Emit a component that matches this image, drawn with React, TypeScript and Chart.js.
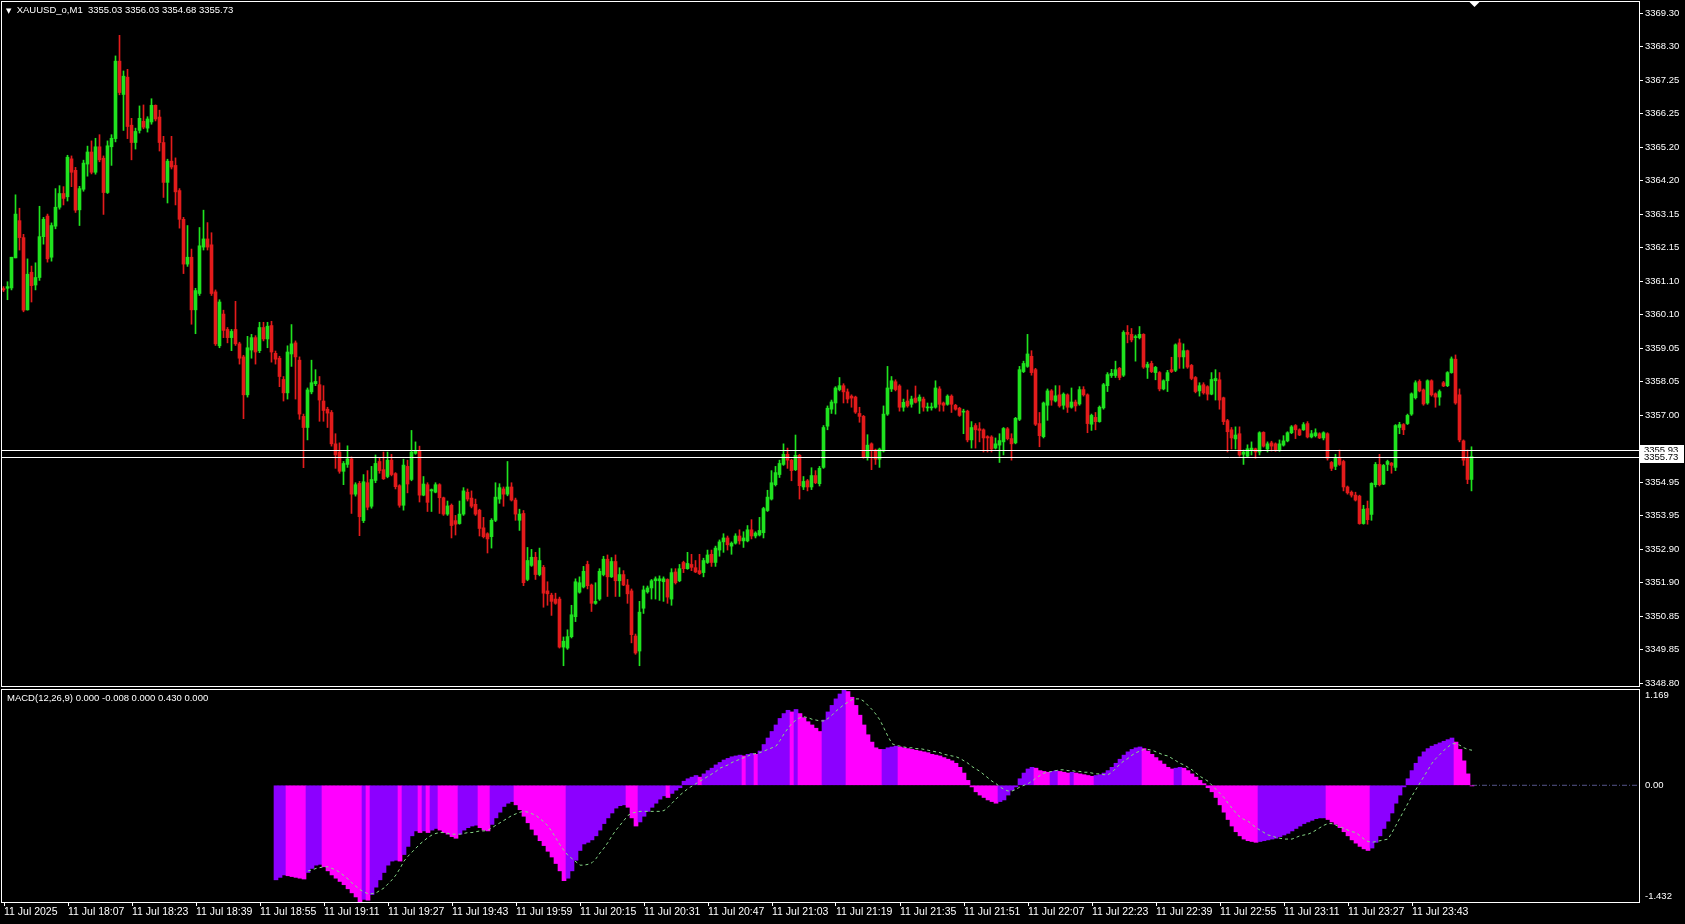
import React, { useEffect, useRef } from "react";
import { Chart, registerables } from "chart.js";
Chart.register(...registerables);

// ---------- text ----------
const TITLE_SYMBOL = "XAUUSD_o,M1  3355.03 3356.03 3354.68 3355.73";
const MACD_TITLE = "MACD(12,26,9) 0.000 -0.008 0.000 0.430 0.000";

// ---------- axis labels ----------
const timeLabels = [
  "11 Jul 2025", "11 Jul 18:07", "11 Jul 18:23", "11 Jul 18:39", "11 Jul 18:55", "11 Jul 19:11",
  "11 Jul 19:27", "11 Jul 19:43", "11 Jul 19:59", "11 Jul 20:15", "11 Jul 20:31", "11 Jul 20:47",
  "11 Jul 21:03", "11 Jul 21:19", "11 Jul 21:35", "11 Jul 21:51", "11 Jul 22:07", "11 Jul 22:23",
  "11 Jul 22:39", "11 Jul 22:55", "11 Jul 23:11", "11 Jul 23:27", "11 Jul 23:43",
];
const timeLabelStep = 16; // bars between time labels

const priceLabels = [
  "3369.30", "3368.30", "3367.25", "3366.25", "3365.20", "3364.20", "3363.15", "3362.15",
  "3361.10", "3360.10", "3359.05", "3358.05", "3357.00", "", "3354.95", "3353.95",
  "3352.90", "3351.90", "3350.85", "3349.85", "3348.80",
];
const priceTickTop = 3369.30;
const priceTickStep = 1.025;
const priceMin = 3348.71;
const priceMax = 3369.64;

const askPrice = 3355.93;
const bidPrice = 3355.73;

const macdLabels = ["1.169", "0.00", "-1.432"];
const macdMax = 1.169;
const macdMin = -1.432;

// ---------- candles (M1 bars from 17:51) ----------
const opens = [
  3360.87, 3360.88, 3360.89, 3361.81, 3362.95, 3362.43, 3360.22, 3361.37, 3360.98, 3361.21,
  3362.46, 3363.09, 3361.83, 3362.78, 3363.36, 3363.78, 3363.68, 3364.84, 3364.49, 3363.28,
  3363.91, 3364.68, 3365.05, 3364.43, 3365.21, 3364.86, 3363.81, 3365.21, 3365.46, 3367.83,
  3366.81, 3367.34, 3365.87, 3365.34, 3365.71, 3365.99, 3365.78, 3365.97, 3366.48, 3366.12,
  3365.34, 3364.12, 3364.77, 3364.64, 3363.87, 3362.99, 3361.62, 3361.83, 3360.22, 3360.72,
  3362.14, 3362.39, 3362.21, 3360.77, 3359.12, 3360.09, 3359.62, 3359.37, 3359.62, 3359.18,
  3358.78, 3357.62, 3358.99, 3359.37, 3358.97, 3359.68, 3359.33, 3359.74, 3358.89, 3358.74,
  3358.09, 3357.68, 3358.87, 3359.21, 3358.68, 3356.96, 3356.62, 3357.71, 3357.96, 3357.93,
  3357.43, 3357.18, 3357.08, 3356.12, 3355.87, 3355.28, 3355.49, 3355.66, 3354.58, 3354.91,
  3353.77, 3354.93, 3354.21, 3355.00, 3355.58, 3355.33, 3355.12, 3355.62, 3355.21, 3354.84,
  3354.24, 3355.43, 3355.03, 3355.83, 3355.89, 3354.55, 3354.87, 3354.68, 3354.64, 3354.87,
  3354.47, 3353.97, 3354.24, 3353.77, 3353.68, 3353.97, 3354.64, 3354.46, 3354.27, 3354.09,
  3353.55, 3353.37, 3353.28, 3353.78, 3354.43, 3354.74, 3354.58, 3354.80, 3354.40, 3353.78,
  3353.99, 3351.97, 3352.40, 3352.65, 3352.12, 3352.34, 3351.62, 3351.49, 3351.37, 3351.37,
  3349.90, 3349.87, 3350.22, 3350.83, 3351.58, 3351.74, 3352.43, 3351.80, 3351.24, 3351.37,
  3352.12, 3352.59, 3352.05, 3352.52, 3351.93, 3352.12, 3351.80, 3351.62, 3350.24, 3349.78,
  3351.09, 3351.59, 3351.71, 3351.93, 3351.93, 3351.90, 3351.97, 3351.37, 3352.20, 3351.93,
  3352.49, 3352.30, 3352.43, 3352.33, 3352.24, 3352.18, 3352.49, 3352.74, 3352.49, 3352.87,
  3353.12, 3353.24, 3352.99, 3353.08, 3353.30, 3353.15, 3353.15, 3353.49, 3353.30, 3353.33,
  3353.40, 3354.08, 3354.43, 3354.87, 3355.18, 3355.49, 3355.80, 3355.62, 3355.33, 3355.77,
  3354.80, 3354.99, 3354.80, 3355.15, 3354.90, 3355.40, 3356.66, 3357.18, 3357.37, 3357.78,
  3357.90, 3357.71, 3357.58, 3357.55, 3357.05, 3356.96, 3355.71, 3356.12, 3355.93, 3355.65,
  3355.90, 3357.03, 3357.80, 3358.02, 3357.89, 3357.24, 3357.43, 3357.33, 3357.52, 3357.43,
  3357.49, 3357.22, 3357.22, 3357.24, 3357.80, 3357.37, 3357.33, 3357.58, 3357.30, 3357.21,
  3357.09, 3357.12, 3356.24, 3356.68, 3356.58, 3356.55, 3356.34, 3356.33, 3355.99, 3356.08,
  3356.18, 3356.58, 3356.28, 3356.15, 3356.87, 3358.33, 3358.49, 3358.80, 3358.39, 3356.74,
  3356.34, 3357.30, 3357.74, 3357.43, 3357.62, 3357.30, 3357.62, 3357.24, 3357.40, 3357.34,
  3357.78, 3357.62, 3356.72, 3356.93, 3356.80, 3357.22, 3357.90, 3358.21, 3358.21, 3358.43,
  3358.22, 3359.53, 3359.47, 3359.37, 3359.37, 3359.47, 3358.46, 3358.58, 3358.30, 3358.30,
  3357.80, 3358.05, 3358.39, 3358.37, 3359.21, 3358.78, 3358.97, 3358.52, 3358.15, 3357.74,
  3357.93, 3357.87, 3357.64, 3358.05, 3358.08, 3357.53, 3356.83, 3356.55, 3356.27, 3356.43,
  3355.80, 3355.74, 3355.93, 3355.97, 3355.87, 3356.47, 3355.96, 3356.15, 3356.12, 3355.93,
  3356.08, 3356.21, 3356.46, 3356.68, 3356.55, 3356.55, 3356.74, 3356.33, 3356.37, 3356.43,
  3356.30, 3356.43, 3355.55, 3355.43, 3355.71, 3355.58, 3354.80, 3354.64, 3354.55, 3354.52,
  3353.68, 3354.14, 3353.96, 3354.87, 3355.49, 3354.89, 3355.49, 3355.53, 3355.40, 3356.62,
  3356.71, 3356.74, 3357.03, 3357.53, 3358.03, 3357.77, 3357.37, 3358.05, 3357.65, 3357.55,
  3357.99, 3357.90, 3358.30, 3358.71, 3357.62, 3356.21, 3355.68, 3355.03,
];
const highs = [
  3360.93, 3361.08, 3361.83, 3363.74, 3363.33, 3362.53, 3361.78, 3361.56, 3361.66, 3363.39,
  3363.05, 3363.15, 3362.88, 3363.93, 3364.02, 3363.99, 3364.95, 3364.93, 3364.58, 3364.00,
  3364.80, 3365.23, 3365.39, 3365.47, 3365.58, 3364.93, 3365.39, 3365.58, 3367.99, 3368.62,
  3367.53, 3367.58, 3366.08, 3365.78, 3366.46, 3366.49, 3366.13, 3366.68, 3366.49, 3366.33,
  3365.53, 3364.83, 3365.53, 3364.87, 3363.93, 3363.05, 3362.80, 3362.08, 3360.88, 3362.74,
  3363.27, 3362.89, 3362.58, 3360.83, 3360.53, 3360.21, 3359.68, 3359.62, 3360.48, 3359.23,
  3358.83, 3359.41, 3359.47, 3359.43, 3359.84, 3359.84, 3359.84, 3359.87, 3358.96, 3358.80,
  3358.18, 3359.12, 3359.77, 3359.27, 3358.78, 3357.03, 3357.83, 3358.68, 3358.39, 3358.18,
  3357.90, 3357.24, 3357.14, 3356.43, 3356.15, 3355.58, 3356.06, 3355.72, 3354.93, 3354.97,
  3355.18, 3355.30, 3355.43, 3355.78, 3355.68, 3355.87, 3355.87, 3355.80, 3355.24, 3354.87,
  3355.65, 3355.62, 3356.53, 3356.18, 3356.05, 3355.12, 3354.93, 3354.74, 3354.93, 3354.90,
  3354.49, 3354.37, 3354.28, 3353.93, 3354.37, 3354.78, 3354.74, 3354.68, 3354.43, 3354.12,
  3353.87, 3353.40, 3353.83, 3354.93, 3354.90, 3354.80, 3355.58, 3354.93, 3354.46, 3354.12,
  3354.08, 3352.95, 3352.89, 3352.80, 3352.93, 3352.40, 3351.90, 3351.55, 3351.55, 3351.43,
  3350.21, 3350.43, 3351.18, 3351.99, 3352.05, 3352.37, 3352.53, 3351.83, 3351.87, 3352.30,
  3352.68, 3352.72, 3352.64, 3352.72, 3352.33, 3352.24, 3351.97, 3351.68, 3350.30, 3351.30,
  3351.77, 3351.77, 3351.97, 3352.05, 3352.08, 3352.05, 3351.99, 3352.30, 3352.30, 3352.43,
  3352.53, 3352.80, 3352.74, 3352.55, 3352.74, 3352.62, 3352.87, 3352.87, 3352.99, 3353.18,
  3353.37, 3353.30, 3353.12, 3353.37, 3353.49, 3353.43, 3353.62, 3353.80, 3353.43, 3353.87,
  3354.18, 3354.70, 3355.30, 3355.43, 3355.62, 3356.12, 3355.99, 3355.65, 3356.39, 3355.80,
  3355.12, 3355.03, 3355.39, 3355.30, 3355.43, 3356.68, 3357.28, 3357.46, 3357.87, 3358.15,
  3357.96, 3357.80, 3357.62, 3357.58, 3357.24, 3356.99, 3356.40, 3356.15, 3355.96, 3355.99,
  3357.28, 3358.49, 3358.18, 3358.08, 3357.93, 3357.49, 3357.77, 3357.58, 3357.89, 3357.62,
  3357.55, 3357.37, 3357.37, 3358.05, 3357.87, 3357.40, 3357.62, 3357.62, 3357.33, 3357.24,
  3357.18, 3357.15, 3356.80, 3356.74, 3356.77, 3356.58, 3356.37, 3356.37, 3356.30, 3356.43,
  3356.62, 3356.62, 3356.43, 3356.93, 3358.49, 3358.65, 3359.47, 3358.97, 3358.43, 3357.08,
  3357.40, 3357.80, 3357.78, 3357.90, 3357.90, 3357.68, 3357.65, 3357.83, 3357.46, 3357.87,
  3357.87, 3357.65, 3357.03, 3357.08, 3357.28, 3357.97, 3358.30, 3358.40, 3358.65, 3358.46,
  3359.58, 3359.74, 3359.65, 3359.45, 3359.71, 3359.49, 3358.62, 3358.65, 3358.49, 3358.33,
  3358.08, 3358.37, 3358.77, 3359.18, 3359.33, 3359.18, 3358.99, 3358.55, 3358.18, 3357.99,
  3357.99, 3357.90, 3358.30, 3358.39, 3358.30, 3357.55, 3356.87, 3356.62, 3356.64, 3356.64,
  3355.93, 3356.09, 3356.18, 3355.99, 3356.49, 3356.49, 3356.18, 3356.20, 3356.15, 3356.24,
  3356.37, 3356.49, 3356.68, 3356.71, 3356.58, 3356.77, 3356.80, 3356.53, 3356.58, 3356.46,
  3356.49, 3356.46, 3355.58, 3355.80, 3355.93, 3355.62, 3354.83, 3354.68, 3354.64, 3354.55,
  3354.24, 3354.37, 3354.93, 3355.55, 3355.80, 3355.49, 3355.62, 3355.55, 3356.71, 3356.78,
  3356.74, 3357.03, 3357.68, 3358.05, 3358.08, 3357.80, 3358.08, 3358.08, 3357.68, 3357.77,
  3358.03, 3358.33, 3358.78, 3358.84, 3357.80, 3356.24, 3355.93, 3356.03,
];
const lows = [
  3360.78, 3360.53, 3360.83, 3361.81, 3362.05, 3360.16, 3360.21, 3360.46, 3360.83, 3361.12,
  3362.23, 3361.68, 3361.71, 3362.70, 3363.30, 3363.43, 3363.55, 3363.99, 3363.20, 3362.80,
  3363.85, 3364.31, 3364.38, 3364.37, 3364.75, 3363.14, 3363.78, 3364.64, 3365.36, 3366.80,
  3365.71, 3365.46, 3364.81, 3365.14, 3365.63, 3365.76, 3365.66, 3365.90, 3366.00, 3365.08,
  3363.66, 3363.49, 3364.53, 3363.43, 3362.72, 3361.33, 3361.55, 3359.78, 3359.49, 3360.66,
  3362.05, 3362.05, 3360.66, 3359.13, 3359.06, 3359.37, 3359.21, 3358.97, 3359.13, 3358.56,
  3356.89, 3357.55, 3358.74, 3358.56, 3358.91, 3359.27, 3359.06, 3358.62, 3358.56, 3357.87,
  3357.43, 3357.49, 3358.49, 3357.49, 3356.87, 3355.39, 3356.24, 3357.65, 3357.90, 3356.81,
  3356.81, 3356.62, 3356.05, 3355.37, 3355.22, 3354.87, 3355.40, 3353.99, 3354.52, 3353.31,
  3353.71, 3354.10, 3354.15, 3354.93, 3355.22, 3355.03, 3355.08, 3355.14, 3354.74, 3354.18,
  3354.09, 3354.62, 3354.99, 3355.80, 3354.34, 3354.53, 3354.05, 3354.05, 3354.62, 3353.99,
  3353.93, 3353.93, 3353.24, 3353.33, 3353.66, 3353.93, 3354.37, 3354.16, 3353.93, 3353.30,
  3353.24, 3352.78, 3352.93, 3353.74, 3354.30, 3354.21, 3354.53, 3354.37, 3353.78, 3353.47,
  3351.78, 3351.93, 3352.37, 3351.97, 3352.08, 3351.12, 3351.18, 3350.87, 3351.21, 3349.87,
  3349.33, 3349.83, 3350.18, 3350.68, 3351.55, 3351.71, 3351.68, 3350.99, 3351.21, 3351.33,
  3352.08, 3351.45, 3352.03, 3351.45, 3351.45, 3351.78, 3351.24, 3350.03, 3349.68, 3349.33,
  3350.93, 3351.55, 3351.37, 3351.37, 3351.33, 3351.30, 3351.24, 3351.18, 3351.83, 3351.90,
  3352.18, 3352.28, 3352.24, 3352.18, 3352.12, 3352.05, 3352.46, 3352.37, 3352.37, 3352.68,
  3352.80, 3352.87, 3352.74, 3353.05, 3353.05, 3352.95, 3353.12, 3353.21, 3353.24, 3353.30,
  3353.24, 3354.05, 3354.40, 3354.83, 3355.09, 3355.46, 3355.37, 3354.99, 3355.30, 3354.43,
  3354.72, 3354.68, 3354.72, 3354.90, 3354.83, 3355.37, 3356.55, 3357.05, 3357.03, 3357.74,
  3357.37, 3357.37, 3357.24, 3357.05, 3356.78, 3355.68, 3355.62, 3355.33, 3355.49, 3355.40,
  3355.87, 3356.99, 3357.72, 3357.74, 3357.12, 3357.12, 3357.24, 3357.24, 3357.37, 3357.05,
  3357.12, 3357.12, 3357.15, 3357.21, 3357.12, 3357.12, 3357.30, 3357.08, 3357.15, 3356.96,
  3356.43, 3356.18, 3355.99, 3355.99, 3356.18, 3355.87, 3355.87, 3355.87, 3355.96, 3355.55,
  3355.78, 3356.24, 3355.62, 3356.12, 3356.83, 3358.30, 3358.46, 3358.22, 3356.68, 3356.03,
  3356.30, 3356.84, 3357.30, 3357.40, 3357.24, 3357.18, 3357.08, 3357.21, 3357.12, 3357.30,
  3357.58, 3356.46, 3356.53, 3356.55, 3356.78, 3357.18, 3357.72, 3358.15, 3358.15, 3358.08,
  3358.18, 3359.21, 3359.24, 3358.65, 3359.33, 3358.43, 3358.12, 3358.30, 3358.08, 3357.74,
  3357.77, 3357.72, 3358.30, 3358.33, 3358.43, 3358.43, 3358.43, 3358.08, 3357.68, 3357.58,
  3357.64, 3357.46, 3357.62, 3357.46, 3357.18, 3356.71, 3355.87, 3355.96, 3355.96, 3355.74,
  3355.49, 3355.71, 3355.78, 3355.68, 3355.78, 3356.02, 3355.87, 3355.90, 3355.89, 3355.89,
  3356.05, 3356.18, 3356.43, 3356.28, 3356.37, 3356.53, 3356.30, 3356.30, 3356.33, 3356.28,
  3356.24, 3355.62, 3355.30, 3355.33, 3355.46, 3354.68, 3354.58, 3354.49, 3354.37, 3353.66,
  3353.66, 3353.66, 3353.78, 3354.80, 3354.83, 3354.87, 3355.30, 3355.22, 3355.30, 3356.43,
  3356.40, 3356.71, 3356.99, 3357.49, 3357.71, 3357.30, 3357.33, 3357.58, 3357.24, 3357.30,
  3357.87, 3357.87, 3358.28, 3357.33, 3356.18, 3355.46, 3354.90, 3354.68,
];
const closes = [
  3360.83, 3360.93, 3361.83, 3363.15, 3362.43, 3360.21, 3361.31, 3360.96, 3361.21, 3362.46,
  3362.99, 3361.78, 3362.80, 3363.36, 3363.78, 3363.63, 3364.89, 3364.43, 3363.27, 3363.93,
  3364.71, 3365.05, 3364.43, 3365.21, 3364.81, 3363.81, 3365.24, 3365.47, 3367.83, 3366.87,
  3367.37, 3365.83, 3365.34, 3365.68, 3366.08, 3365.81, 3366.06, 3366.48, 3366.06, 3365.34,
  3364.12, 3364.77, 3364.59, 3363.83, 3362.99, 3361.62, 3361.83, 3360.22, 3360.81, 3362.18,
  3362.39, 3362.14, 3360.72, 3359.18, 3360.46, 3359.59, 3359.37, 3359.56, 3359.18, 3358.74,
  3357.62, 3359.06, 3359.37, 3358.93, 3359.68, 3359.33, 3359.72, 3358.93, 3358.71, 3358.18,
  3357.68, 3358.93, 3359.18, 3358.78, 3357.03, 3356.62, 3357.77, 3357.99, 3358.03, 3357.46,
  3357.14, 3357.06, 3356.12, 3355.78, 3355.28, 3355.52, 3355.66, 3354.58, 3354.87, 3353.89,
  3354.96, 3354.18, 3355.03, 3355.52, 3355.30, 3355.05, 3355.62, 3355.18, 3354.81, 3354.24,
  3355.47, 3354.89, 3355.87, 3355.89, 3354.55, 3354.89, 3354.33, 3354.72, 3354.87, 3354.47,
  3353.97, 3354.22, 3353.62, 3353.66, 3353.97, 3354.68, 3354.43, 3354.21, 3353.97, 3353.53,
  3353.28, 3353.21, 3353.78, 3354.49, 3354.78, 3354.58, 3354.80, 3354.40, 3353.97, 3353.97,
  3351.87, 3352.55, 3352.65, 3352.12, 3352.55, 3351.55, 3351.53, 3351.30, 3351.24, 3349.90,
  3350.08, 3350.22, 3350.89, 3351.90, 3351.87, 3352.22, 3351.78, 3351.24, 3351.30, 3352.22,
  3352.59, 3352.05, 3352.52, 3351.93, 3352.12, 3351.80, 3351.53, 3350.28, 3349.72, 3350.97,
  3351.65, 3351.71, 3351.93, 3351.99, 3351.99, 3351.99, 3351.43, 3352.18, 3351.87, 3352.30,
  3352.30, 3352.46, 3352.34, 3352.20, 3352.15, 3352.55, 3352.72, 3352.49, 3352.93, 3353.12,
  3353.24, 3353.03, 3353.08, 3353.30, 3353.15, 3353.24, 3353.49, 3353.30, 3353.39, 3353.47,
  3354.14, 3354.49, 3354.93, 3355.24, 3355.52, 3355.80, 3355.62, 3355.30, 3355.77, 3354.84,
  3354.97, 3354.80, 3355.15, 3354.93, 3355.37, 3356.62, 3357.21, 3357.40, 3357.83, 3357.90,
  3357.71, 3357.49, 3357.52, 3357.09, 3356.96, 3355.71, 3356.08, 3355.93, 3355.65, 3355.96,
  3357.03, 3357.83, 3358.05, 3357.78, 3357.24, 3357.39, 3357.28, 3357.49, 3357.39, 3357.55,
  3357.24, 3357.24, 3357.24, 3357.83, 3357.33, 3357.30, 3357.58, 3357.33, 3357.18, 3356.99,
  3357.12, 3356.24, 3356.62, 3356.55, 3356.53, 3356.30, 3356.30, 3355.96, 3356.12, 3356.22,
  3356.59, 3356.28, 3356.12, 3356.90, 3358.39, 3358.58, 3358.87, 3358.30, 3356.72, 3356.37,
  3357.37, 3357.74, 3357.46, 3357.59, 3357.28, 3357.64, 3357.24, 3357.40, 3357.28, 3357.78,
  3357.62, 3356.74, 3356.99, 3356.80, 3357.24, 3357.93, 3358.24, 3358.28, 3358.39, 3358.15,
  3359.53, 3359.47, 3359.30, 3359.40, 3359.47, 3358.47, 3358.55, 3358.33, 3358.46, 3357.80,
  3358.05, 3358.30, 3358.33, 3359.15, 3358.78, 3358.97, 3358.47, 3358.12, 3357.72, 3357.90,
  3357.68, 3357.64, 3358.09, 3358.12, 3357.46, 3356.80, 3356.49, 3356.30, 3356.39, 3355.78,
  3355.87, 3355.97, 3355.99, 3355.87, 3356.46, 3356.05, 3356.12, 3356.05, 3355.93, 3356.12,
  3356.21, 3356.46, 3356.64, 3356.55, 3356.39, 3356.71, 3356.33, 3356.43, 3356.46, 3356.30,
  3356.46, 3355.68, 3355.37, 3355.68, 3355.49, 3354.80, 3354.62, 3354.55, 3354.40, 3353.68,
  3354.12, 3353.80, 3354.91, 3355.49, 3354.87, 3355.46, 3355.58, 3355.46, 3356.68, 3356.71,
  3356.55, 3356.99, 3357.65, 3357.99, 3357.74, 3357.34, 3358.05, 3357.62, 3357.55, 3357.72,
  3357.89, 3358.30, 3358.72, 3357.37, 3356.24, 3355.62, 3355.03, 3355.73,
];

// ---------- MACD (first value belongs to bar 68) ----------
const macdStart = 68;
const macdValues = [
  -1.16, -1.13, -1.10, -1.11, -1.12, -1.13, -1.14, -1.15, -1.07, -1.02,
  -0.98, -0.97, -1.00, -1.05, -1.10, -1.14, -1.18, -1.22, -1.27, -1.32,
  -1.37, -1.432, -1.40, -1.41, -1.34, -1.25, -1.16, -1.07, -0.98, -0.93,
  -0.92, -0.93, -0.85, -0.75, -0.62, -0.56, -0.58, -0.56, -0.58, -0.55,
  -0.53, -0.55, -0.58, -0.60, -0.63, -0.65, -0.60, -0.55, -0.52, -0.50,
  -0.49, -0.52, -0.55, -0.56, -0.48, -0.40, -0.33, -0.26, -0.22, -0.20,
  -0.24, -0.30, -0.38, -0.46, -0.54, -0.61, -0.68, -0.74, -0.81, -0.88,
  -0.96, -1.05, -1.17, -1.14, -1.05, -0.92, -0.80, -0.72, -0.70, -0.67,
  -0.62, -0.55, -0.47, -0.40, -0.34, -0.28, -0.25, -0.24, -0.27, -0.40,
  -0.50, -0.45, -0.38, -0.32, -0.27, -0.22, -0.17, -0.13, -0.15, -0.10,
  -0.06, -0.03, 0.05, 0.08, 0.10, 0.12, 0.10, 0.14, 0.18, 0.21,
  0.25, 0.28, 0.31, 0.33, 0.35, 0.36, 0.37, 0.36, 0.38, 0.39,
  0.38, 0.42, 0.50, 0.58, 0.66, 0.74, 0.82, 0.88, 0.92, 0.90,
  0.93, 0.88, 0.83, 0.78, 0.74, 0.70, 0.66, 0.80, 0.90, 0.98,
  1.06, 1.12, 1.169, 1.15, 1.08, 0.98, 0.86, 0.74, 0.62, 0.53,
  0.46, 0.44, 0.44, 0.46, 0.47, 0.48, 0.47, 0.46, 0.45, 0.44,
  0.43, 0.42, 0.41, 0.40, 0.38, 0.37, 0.36, 0.34, 0.32, 0.30,
  0.27, 0.22, 0.15, 0.06, -0.02, -0.08, -0.12, -0.15, -0.18, -0.20,
  -0.22, -0.20, -0.18, -0.12, -0.06, -0.02, 0.08, 0.15, 0.20, 0.22,
  0.21, 0.18, 0.17, 0.16, 0.17, 0.18, 0.17, 0.16, 0.15, 0.16,
  0.15, 0.14, 0.13, 0.12, 0.11, 0.12, 0.13, 0.15, 0.18, 0.22,
  0.27, 0.32, 0.37, 0.41, 0.44, 0.46, 0.47, 0.45, 0.42, 0.38,
  0.34, 0.30, 0.26, 0.22, 0.20, 0.21, 0.22, 0.21, 0.18, 0.14,
  0.10, 0.06, 0.02, -0.03, -0.08, -0.15, -0.24, -0.33, -0.42, -0.50,
  -0.57, -0.62, -0.66, -0.68, -0.69, -0.70, -0.69, -0.68, -0.67, -0.66,
  -0.65, -0.63, -0.61, -0.59, -0.56, -0.53, -0.50, -0.47, -0.45, -0.43,
  -0.41, -0.40, -0.40, -0.42, -0.45, -0.48, -0.52, -0.57, -0.62, -0.67,
  -0.71, -0.75, -0.78, -0.80, -0.77, -0.70, -0.62, -0.53, -0.44, -0.34,
  -0.22, -0.12, -0.02, 0.08, 0.18, 0.27, 0.35, 0.41, 0.45, 0.48,
  0.50, 0.52, 0.54, 0.56, 0.58, 0.53, 0.44, 0.30, 0.14, -0.008,
];
const signalValues = [
  null, null, null, null, null, null, null, null, -1.05, -1.04,
  -1.02, -1.01, -1.00, -1.00, -1.02, -1.04, -1.07, -1.11, -1.15, -1.20,
  -1.24, -1.28, -1.31, -1.33, -1.33, -1.32, -1.29, -1.26, -1.21, -1.16,
  -1.10, -1.02, -0.93, -0.87, -0.82, -0.77, -0.72, -0.68, -0.64, -0.61,
  -0.59, -0.58, -0.58, -0.59, -0.60, -0.60, -0.60, -0.59, -0.58, -0.58,
  -0.57, -0.56, -0.56, -0.55, -0.52, -0.49, -0.46, -0.43, -0.40, -0.37,
  -0.35, -0.33, -0.32, -0.33, -0.35, -0.37, -0.41, -0.45, -0.50, -0.57,
  -0.65, -0.73, -0.80, -0.86, -0.90, -0.94, -0.98, -0.98, -0.97, -0.95,
  -0.90, -0.83, -0.77, -0.70, -0.62, -0.55, -0.49, -0.43, -0.37, -0.34,
  -0.33, -0.32, -0.32, -0.32, -0.32, -0.32, -0.32, -0.31, -0.27, -0.22,
  -0.17, -0.12, -0.08, -0.04, -0.01, 0.02, 0.05, 0.08, 0.11, 0.14,
  0.17, 0.21, 0.23, 0.25, 0.28, 0.30, 0.32, 0.34, 0.36, 0.38,
  0.39, 0.40, 0.42, 0.44, 0.46, 0.48, 0.55, 0.63, 0.70, 0.76,
  0.80, 0.83, 0.84, 0.83, 0.81, 0.80, 0.79, 0.79, 0.82, 0.86,
  0.91, 0.95, 0.99, 1.02, 1.05, 1.06, 1.06, 1.03, 0.98, 0.93,
  0.87, 0.80, 0.70, 0.60, 0.51, 0.49, 0.48, 0.47, 0.46, 0.46,
  0.45, 0.45, 0.44, 0.43, 0.42, 0.41, 0.40, 0.38, 0.37, 0.36,
  0.35, 0.33, 0.30, 0.27, 0.23, 0.20, 0.17, 0.13, 0.09, 0.05,
  0.02, -0.02, -0.05, -0.07, -0.07, -0.05, -0.02, 0.00, 0.02, 0.05,
  0.09, 0.12, 0.15, 0.16, 0.17, 0.18, 0.19, 0.19, 0.18, 0.18,
  0.17, 0.17, 0.16, 0.16, 0.15, 0.14, 0.14, 0.13, 0.13, 0.16,
  0.21, 0.26, 0.30, 0.33, 0.37, 0.40, 0.42, 0.44, 0.44, 0.43,
  0.41, 0.39, 0.37, 0.36, 0.33, 0.30, 0.27, 0.25, 0.22, 0.19,
  0.15, 0.11, 0.08, 0.05, 0.00, -0.05, -0.10, -0.15, -0.22, -0.28,
  -0.34, -0.39, -0.42, -0.44, -0.48, -0.52, -0.55, -0.58, -0.61, -0.62,
  -0.64, -0.65, -0.66, -0.66, -0.66, -0.64, -0.62, -0.61, -0.60, -0.58,
  -0.55, -0.52, -0.49, -0.47, -0.47, -0.49, -0.51, -0.53, -0.55, -0.57,
  -0.58, -0.62, -0.66, -0.69, -0.70, -0.69, -0.68, -0.67, -0.66, -0.58,
  -0.49, -0.40, -0.31, -0.22, -0.13, -0.05, 0.03, 0.11, 0.19, 0.27,
  0.33, 0.38, 0.43, 0.47, 0.51, 0.51, 0.49, 0.46, 0.44, 0.43,
];

// ---------- styles ----------
const BULL = "#1fe31f";
const BEAR = "#e31b1b";
const HIST_UP = "#8c00ff";
const HIST_DOWN = "#ff00ff";
const SIGNAL = "#86d686";
const ZERO_LINE = "#55558a";
const WHITE = "#ffffff";
const FONT_FAMILY = "'Liberation Sans', Arial, sans-serif";
const PRICE_FONT_SIZE = 9.5;
const TIME_FONT_SIZE = 10.5;
const TITLE_FONT_SIZE = 9.5;

const W = 1685;
const PLOT_LEFT = 2;
const AXIS_W = 46;
const BAR_PX = 4;
const plotWidth = W - PLOT_LEFT - AXIS_W;

const framePlugin = {
  id: "frame",
  afterDraw(chart: any) {
    const { ctx, chartArea: a } = chart;
    ctx.save();
    ctx.strokeStyle = WHITE;
    ctx.lineWidth = 1;
    ctx.strokeRect(
      Math.round(a.left) - 0.5,
      Math.round(a.top) - 0.5,
      Math.round(a.right - a.left) + 1,
      Math.round(a.bottom - a.top) + 1
    );
    ctx.restore();
  },
};

const priceLinePlugin = {
  id: "priceLines",
  afterDatasetsDraw(chart: any) {
    const { ctx, chartArea: a, scales } = chart;
    ctx.save();
    ctx.strokeStyle = WHITE;
    ctx.lineWidth = 1;
    [askPrice, bidPrice].forEach((p) => {
      const py = Math.round(scales.y.getPixelForValue(p)) + 0.5;
      ctx.beginPath();
      ctx.moveTo(a.left, py);
      ctx.lineTo(a.right, py);
      ctx.stroke();
    });
    ctx.restore();
  },
  afterDraw(chart: any) {
    const { ctx, chartArea: a, scales } = chart;
    ctx.save();
    ctx.font = `${PRICE_FONT_SIZE}px ${FONT_FAMILY}`;
    ctx.textBaseline = "middle";
    ctx.textAlign = "left";
    [askPrice, bidPrice].forEach((p) => {
      const py = Math.round(scales.y.getPixelForValue(p));
      ctx.fillStyle = WHITE;
      ctx.fillRect(a.right + 1, py - 5, AXIS_W - 2, 11);
      ctx.fillStyle = "#000";
      ctx.fillText(p.toFixed(2), a.right + 5, py + 0.5);
    });
    // chart-shift marker at the top
    const sx = Math.round(scales.x.getPixelForValue(opens.length - 1)) + 2.5;
    ctx.fillStyle = WHITE;
    ctx.beginPath();
    ctx.moveTo(sx - 5, a.top);
    ctx.lineTo(sx + 5, a.top);
    ctx.lineTo(sx, a.top + 5);
    ctx.closePath();
    ctx.fill();
    ctx.restore();
  },
};

const priceFont = { family: FONT_FAMILY, size: PRICE_FONT_SIZE };
const timeFont = { family: FONT_FAMILY, size: TIME_FONT_SIZE };

export default function App() {
  const mainRef = useRef<HTMLCanvasElement>(null);
  const macdRef = useRef<HTMLCanvasElement>(null);

  useEffect(() => {
    document.body.style.margin = "0";
    document.body.style.background = "#000";

    const idx = opens.map((_, i) => i);
    const candleColors = idx.map((i) => (closes[i] >= opens[i] ? BULL : BEAR));

    const mainChart = new Chart(mainRef.current as HTMLCanvasElement, {
      type: "bar",
      data: {
        datasets: [
          {
            label: "bodies",
            data: idx.map((i) => ({ x: i, y: [opens[i], closes[i]] })) as any,
            backgroundColor: candleColors,
            barThickness: 3,
            minBarLength: 1,
            grouped: false,
            order: 1,
          } as any,
          {
            label: "wicks",
            data: idx.map((i) => ({ x: i, y: [lows[i], highs[i]] })) as any,
            backgroundColor: candleColors,
            barThickness: 1,
            grouped: false,
            order: 2,
          } as any,
        ],
      },
      options: {
        responsive: false,
        animation: false,
        events: [],
        layout: { padding: { left: PLOT_LEFT, right: 0, top: 10, bottom: 12 } },
        plugins: { legend: { display: false }, tooltip: { enabled: false }, title: { display: false } },
        scales: {
          x: {
            type: "linear",
            display: false,
            offset: false,
            min: -1.5 / BAR_PX,
            max: -1.5 / BAR_PX + plotWidth / BAR_PX,
            grid: { display: false, offset: false },
          },
          y: {
            type: "linear",
            position: "right",
            min: priceMin,
            max: priceMax,
            afterFit: (s: any) => {
              s.width = AXIS_W;
            },
            afterBuildTicks: (s: any) => {
              s.ticks = priceLabels.map((_, k) => ({ value: priceTickTop - k * priceTickStep }));
            },
            ticks: {
              autoSkip: false,
              color: WHITE,
              font: priceFont,
              padding: 2,
              callback: (_v: any, k: number) => priceLabels[k],
            },
            grid: { drawOnChartArea: false, drawTicks: true, tickLength: 4, color: WHITE },
            border: { display: true, color: WHITE },
          },
        },
      } as any,
      plugins: [priceLinePlugin, framePlugin],
    });

    const histColors = macdValues.map((v, k) => (k > 0 && v < macdValues[k - 1] ? HIST_DOWN : HIST_UP));
    const lastBar = opens.length - 1;
    const xMinM = -2 / BAR_PX;
    const xMaxM = xMinM + plotWidth / BAR_PX;
    const macdTickInset = 0.07;

    const macdChart = new Chart(macdRef.current as HTMLCanvasElement, {
      type: "bar",
      data: {
        datasets: [
          {
            type: "line",
            label: "signal",
            data: signalValues
              .map((v, k) => ({ x: macdStart + k, y: v }))
              .filter((p) => p.y !== null) as any,
            borderColor: SIGNAL,
            borderWidth: 1,
            borderDash: [3, 3],
            pointRadius: 0,
            tension: 0,
            fill: false,
            order: 0,
          } as any,
          {
            type: "bar",
            label: "macd",
            data: macdValues.map((v, k) => ({ x: macdStart + k, y: v })) as any,
            backgroundColor: histColors,
            barThickness: BAR_PX,
            grouped: false,
            order: 1,
          } as any,
          {
            type: "line",
            label: "zero",
            data: [
              { x: lastBar, y: 0 },
              { x: xMaxM, y: 0 },
            ],
            borderColor: ZERO_LINE,
            borderWidth: 1,
            borderDash: [5, 2, 1, 2],
            pointRadius: 0,
            fill: false,
            order: 2,
          } as any,
        ],
      },
      options: {
        responsive: false,
        animation: false,
        events: [],
        layout: { padding: { left: PLOT_LEFT, right: 0, top: 10, bottom: 0 } },
        plugins: { legend: { display: false }, tooltip: { enabled: false }, title: { display: false } },
        scales: {
          x: {
            type: "linear",
            position: "bottom",
            offset: false,
            min: xMinM,
            max: xMaxM,
            afterFit: (s: any) => {
              s.height = 22;
            },
            afterBuildTicks: (s: any) => {
              s.ticks = timeLabels.map((_, k) => ({ value: k * timeLabelStep }));
            },
            ticks: {
              autoSkip: false,
              maxRotation: 0,
              minRotation: 0,
              align: "start",
              color: WHITE,
              font: timeFont,
              padding: 0,
              callback: (_v: any, k: number) => timeLabels[k],
            },
            grid: { drawOnChartArea: false, drawTicks: true, tickLength: 4, color: WHITE, offset: false },
            border: { display: true, color: WHITE },
          },
          y: {
            type: "linear",
            position: "right",
            min: macdMin,
            max: macdMax,
            afterFit: (s: any) => {
              s.width = AXIS_W;
            },
            afterBuildTicks: (s: any) => {
              s.ticks = [
                { value: macdMax - macdTickInset },
                { value: 0 },
                { value: macdMin + macdTickInset },
              ];
            },
            ticks: {
              autoSkip: false,
              color: WHITE,
              font: priceFont,
              padding: 2,
              callback: (_v: any, k: number) => macdLabels[k],
            },
            grid: { drawOnChartArea: false, drawTicks: true, tickLength: 4, color: "rgba(0,0,0,0)" },
            border: { display: true, color: WHITE },
          },
        },
      } as any,
      plugins: [framePlugin],
    });

    return () => {
      mainChart.destroy();
      macdChart.destroy();
    };
  }, []);

  const textStyle: React.CSSProperties = {
    position: "absolute",
    color: WHITE,
    fontFamily: FONT_FAMILY,
    fontSize: TITLE_FONT_SIZE,
    lineHeight: "11px",
    whiteSpace: "pre",
  };

  return (
    <div
      style={{
        position: "fixed",
        left: 0,
        top: 0,
        width: W,
        height: 924,
        background: "#000",
        overflow: "hidden",
      }}
    >
      <canvas ref={mainRef} width={W} height={706} style={{ position: "absolute", left: 0, top: -8 }} />
      <canvas ref={macdRef} width={W} height={244} style={{ position: "absolute", left: 0, top: 680 }} />
      <div style={{ ...textStyle, left: 6, top: 4 }}>
        <span style={{ fontSize: 7, fontFamily: "'DejaVu Sans', sans-serif" }}>▼</span>
        {"  " + TITLE_SYMBOL}
      </div>
      <div style={{ ...textStyle, left: 7, top: 692 }}>{MACD_TITLE}</div>
    </div>
  );
}
